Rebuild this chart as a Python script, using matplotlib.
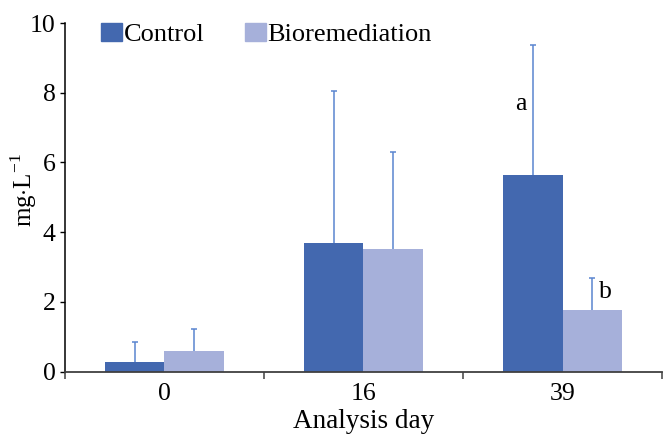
import numpy as np
import matplotlib
matplotlib.use("Agg")
import matplotlib.pyplot as plt
from matplotlib.patches import Patch

plt.rcParams['font.family'] = ['Liberation Serif', 'DejaVu Serif']
plt.rcParams['mathtext.fontset'] = 'custom'
plt.rcParams['mathtext.rm'] = 'Liberation Serif'

# data
days = ['0', '16', '39']
control = [0.27, 3.69, 5.64]
control_sd = [0.59, 4.36, 3.73]
bio = [0.59, 3.52, 1.77]
bio_sd = [0.63, 2.77, 0.93]

c_control = '#4368AF'
c_bio = '#A6B0DA'
c_err = '#5A85D0'

fig = plt.figure(figsize=(6.63, 4.34), dpi=100)
ax = fig.add_axes([0.098, 0.1435, 0.9005, 0.8035])

x = np.arange(len(days))
w = 0.3
zeros = np.zeros(len(days))
ax.bar(x - w / 2, control, w, color=c_control, zorder=2)
ax.bar(x + w / 2, bio, w, color=c_bio, zorder=2)
for xs, vals, sd in [(x - w / 2, control, control_sd), (x + w / 2, bio, bio_sd)]:
    eb = ax.errorbar(xs, vals, yerr=[zeros, sd], fmt='none', ecolor=c_err,
                     elinewidth=1.1, capsize=2.3, capthick=1.1, zorder=1)
    # hide the cap at the bar top (only the upper half of the error is drawn)
    eb[1][0].set_visible(False)

# significance letters
ax.annotate('a', xy=(2 - w / 2, 7.5), xytext=(-4.5, 0), textcoords='offset points',
            ha='right', va='baseline', fontsize=18.5)
ax.annotate('b', xy=(2 + w / 2, 2.11), xytext=(5, 0), textcoords='offset points',
            ha='left', va='baseline', fontsize=18.5)

ax.set_xlim(-0.5, 2.5)
ax.set_ylim(0, 10)
ax.set_yticks(range(0, 11, 2))
ax.set_xticks(x)
ax.set_xticklabels(days)
ax.set_xticks([-0.5, 0.5, 1.5, 2.5], minor=True)
ax.tick_params(axis='x', which='major', length=0, pad=8, labelsize=18.5)
ax.tick_params(axis='x', which='minor', length=4.8, width=1.1, color='#404040')
ax.tick_params(axis='y', length=3.6, width=1.0, pad=3, labelsize=18.5)

for s in ['top', 'right']:
    ax.spines[s].set_visible(False)
ax.spines['left'].set_linewidth(1.1)
ax.spines['left'].set_color('black')
ax.spines['bottom'].set_linewidth(1.3)
ax.spines['bottom'].set_color('#404040')

fig.text(364 / 663, 1 - 427.5 / 434, 'Analysis day', fontsize=19.5, ha='center', va='baseline')
fig.text(24 / 663, 1 - 190 / 434, r'mg$\cdot$L$^{-1}$', fontsize=18, rotation=90,
         ha='center', va='center')

handles = [Patch(color=c_control, label='Control'), Patch(color=c_bio, label='Bioremediation')]
fig.legend(handles=handles, loc='center left', bbox_to_anchor=(101 / 663, 1 - 34.5 / 434),
           ncol=2, frameon=False, fontsize=19, handlelength=0.8, handleheight=0.65,
           handletextpad=0.05, columnspacing=1.55, borderpad=0, borderaxespad=0)

fig.savefig('out.png', dpi=100)
